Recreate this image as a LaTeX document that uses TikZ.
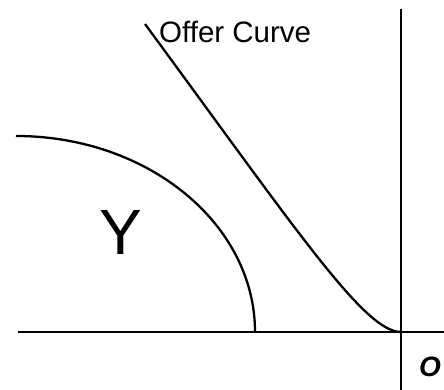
\documentclass[tikz,border=0pt]{standalone}
\usepackage{fontspec}
\setmainfont{Liberation Sans}
\begin{document}
\begin{tikzpicture}[x=1pt,y=-1pt,
  axis/.style={line width=2.8pt},
  crv/.style={line width=2.3pt},
  lbl/.style={inner sep=0pt,anchor=base west}]
\useasboundingbox (0,0) rectangle (444,390);
\coordinate (hl) at (18,332);
\coordinate (hr) at (444,332);
\coordinate (vt) at (401,9);
\coordinate (vb) at (401,390);
\coordinate (O) at (401,332);
\draw[axis] (hl) -- (hr);
\draw[axis] (vt) -- (vb);
% production set boundary
\coordinate (ya) at (16,136);
\coordinate (yb) at (255,332);
\draw[crv] (ya) .. controls (148,136) and (255,224) .. (yb);
% offer curve
\coordinate (oc) at (145,24);
\draw[crv] (oc) .. controls (300,235) and (365,332) .. (O);
\node[lbl,font=\fontsize{29.5}{29.5}\selectfont] (oct) at (159,43) {Offer Curve};
\node[inner sep=0pt,font=\fontsize{64}{64}\selectfont] (Y) at (121,232) {Y};
\node[inner sep=0pt,font=\fontsize{28}{28}\selectfont\bfseries\itshape] (o) at (430,367) {O};
\end{tikzpicture}
\end{document}
